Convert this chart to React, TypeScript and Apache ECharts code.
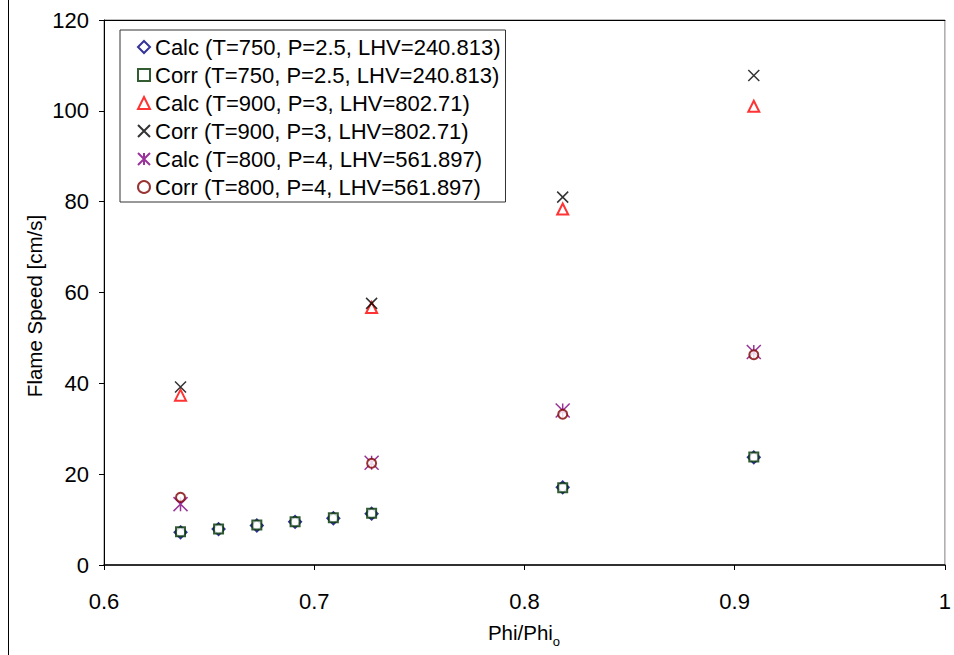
import React, { useEffect, useRef } from "react";
import * as echarts from "echarts";

const phiAll = [0.6364, 0.6545, 0.6727, 0.6909, 0.7091, 0.7273, 0.8182, 0.9091];
const phiFew = [0.6364, 0.7273, 0.8182, 0.9091];

const calc750 = [7.2, 7.9, 8.7, 9.5, 10.3, 11.3, 17.1, 23.7];
const corr750 = [7.3, 7.9, 8.8, 9.5, 10.4, 11.4, 17.0, 23.8];
const calc900 = [37.4, 56.7, 78.4, 101.0];
const corr900 = [39.2, 57.6, 81.0, 107.8];
const calc800 = [13.4, 22.5, 34.0, 46.9];
const corr800 = [14.9, 22.4, 33.2, 46.3];

const seriesNames = [
  "Calc (T=750, P=2.5, LHV=240.813)",
  "Corr (T=750, P=2.5, LHV=240.813)",
  "Calc (T=900, P=3, LHV=802.71)",
  "Corr (T=900, P=3, LHV=802.71)",
  "Calc (T=800, P=4, LHV=561.897)",
  "Corr (T=800, P=4, LHV=561.897)",
];

const CROSS = "path://M0,0L10,10M10,0L0,10";
const STAR = "path://M0,0L10,10M10,0L0,10M5,0L5,10";

const FONT = "'Liberation Sans', Arial, sans-serif";

function pairs(xs: number[], ys: number[]) {
  return xs.map((x, i) => [x, ys[i]]);
}

export default function App() {
  const ref = useRef<HTMLDivElement>(null);
  useEffect(() => {
    document.body.style.margin = "0";
    const chart = echarts.init(ref.current!, undefined, { renderer: "svg" });

    const defs = [
      { data: pairs(phiAll, calc750), symbol: "emptyDiamond", size: 12, color: "#000080", bw: 1.5 },
      { data: pairs(phiAll, corr750), symbol: "emptyRect", size: 9, color: "#003300", bw: 1.6 },
      { data: pairs(phiFew, calc900), symbol: "emptyTriangle", size: 11, color: "#FF0000", bw: 1.6 },
      { data: pairs(phiFew, corr900), symbol: CROSS, size: 11, color: "#000000", bw: 1.5 },
      { data: pairs(phiFew, calc800), symbol: STAR, size: 14, color: "#800080", bw: 1.5 },
      { data: pairs(phiFew, corr800), symbol: "emptyCircle", size: 9, color: "#800000", bw: 1.4 },
    ];

    const series = defs.map((d, i) => {
      const isPath = d.symbol.startsWith("path://");
      return {
        name: seriesNames[i],
        type: "scatter",
        data: d.data,
        symbol: d.symbol,
        symbolSize: d.size,
        itemStyle: isPath
          ? { color: "rgba(0,0,0,0)", borderColor: d.color, borderWidth: d.bw }
          : { color: d.color, borderColor: d.color, borderWidth: d.bw },
        z: 2 + i,
      };
    });

    chart.setOption({
      animation: false,
      backgroundColor: "#ffffff",
      textStyle: { fontFamily: FONT },
      grid: {
        left: 104,
        top: 20,
        right: 8,
        bottom: 90,
        show: true,
        borderColor: "#808080",
        borderWidth: 1,
      },
      xAxis: [
        {
          type: "value",
          min: 0.6,
          max: 1.0,
          interval: 0.1,
          position: "bottom",
          axisLine: { show: true, lineStyle: { color: "#000", width: 1.5 } },
          axisTick: { show: true, length: 5, lineStyle: { color: "#000" } },
          axisLabel: {
            color: "#000",
            fontSize: 22,
            fontFamily: FONT,
            margin: 25,
            formatter: (v: number) => String(Math.round(v * 10) / 10),
          },
          splitLine: { show: false },
        },
        {
          type: "value",
          min: 0.6,
          max: 1.0,
          position: "top",
          axisLine: { show: true, lineStyle: { color: "#000", width: 1.2 } },
          axisTick: { show: false },
          axisLabel: { show: false },
          splitLine: { show: false },
        },
      ],
      yAxis: {
        type: "value",
        min: 0,
        max: 120,
        interval: 20,
        axisLine: { show: true, lineStyle: { color: "#000", width: 1 } },
        axisTick: { show: true, length: 5, lineStyle: { color: "#000" } },
        axisLabel: { color: "#000", fontSize: 22, fontFamily: FONT, margin: 15 },
        splitLine: { show: false },
      },
      legend: {
        orient: "vertical",
        left: 120,
        top: 30,
        padding: [5, 5, 3, 17],
        itemGap: 4,
        itemWidth: 12,
        itemHeight: 12,
        backgroundColor: "#fff",
        borderColor: "#333",
        borderWidth: 1,
        borderRadius: 0,
        textStyle: { color: "#000", fontSize: 22, lineHeight: 24, fontFamily: FONT },
        data: seriesNames,
      },
      graphic: [
        {
          type: "line",
          shape: { x1: 8.5, y1: 0, x2: 8.5, y2: 655 },
          style: { stroke: "#000", lineWidth: 1 },
        },
        {
          type: "text",
          x: 34,
          y: 306,
          rotation: Math.PI / 2,
          style: {
            text: "Flame Speed [cm/s]",
            fontSize: 20.5,
            fontFamily: FONT,
            fill: "#000",
            align: "center",
            verticalAlign: "middle",
          },
        },
        {
          type: "text",
          x: 524,
          y: 634,
          style: {
            text: "{m|Phi/Phi}{s|o}",
            fontFamily: FONT,
            fill: "#000",
            align: "center",
            verticalAlign: "middle",
            rich: {
              m: { fontSize: 20.5, lineHeight: 24, verticalAlign: "top", fontFamily: FONT },
              s: {
                fontSize: 13,
                lineHeight: 12,
                padding: [13, 0, 0, 0],
                verticalAlign: "top",
                fontFamily: FONT,
              },
            },
          },
        },
      ],
      series,
    });
    return () => chart.dispose();
  }, []);
  return <div ref={ref} style={{ width: 954, height: 655 }} />;
}
